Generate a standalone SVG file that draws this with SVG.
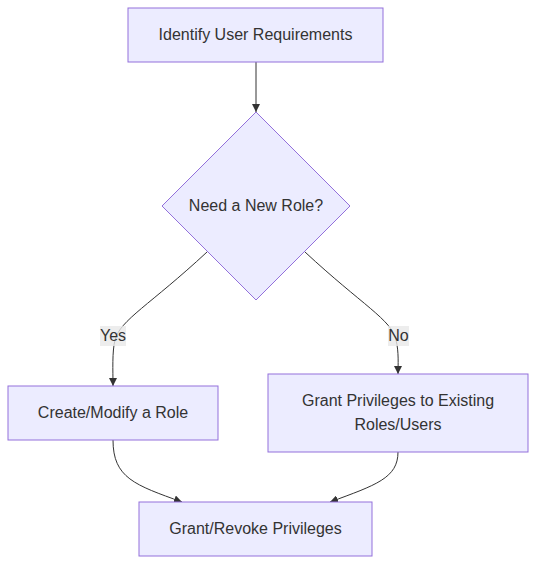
<svg xmlns="http://www.w3.org/2000/svg" width="536" height="564" viewBox="0 0 536 564">
<style>
.node{fill:#ECECFF;stroke:#9370DB;stroke-width:1}
.t{font-family:"Liberation Sans",Arial,sans-serif;font-size:16px;fill:#333333;text-anchor:middle;dominant-baseline:central}
.edge{fill:none;stroke:#333333;stroke-width:1}
.lbl{fill:#E8E8E8;opacity:0.8}
</style>
<defs>
<marker id="arrow" viewBox="0 0 10 10" refX="10" refY="5" markerWidth="8" markerHeight="8" markerUnits="userSpaceOnUse" orient="auto">
<path d="M0,0 L10,5 L0,10 z" fill="#333333"/>
</marker>
</defs>
<rect width="536" height="564" fill="#ffffff"/>
<g id="connectors">
<path class="edge" d="M256,62 L256,112" marker-end="url(#arrow)"/>
<path class="edge" d="M207,252 C150,305 120,320 115,340 C112,352 113,370 113,386" marker-end="url(#arrow)"/>
<path class="edge" d="M305,252 C362,305 392,320 396,340 C399,352 398,365 398,374" marker-end="url(#arrow)"/>
<path class="edge" d="M113,440 C113,478 135,485 182,502" marker-end="url(#arrow)"/>
<path class="edge" d="M398,452 C398,478 376,485 330,502" marker-end="url(#arrow)"/>
<g id="label-yes">
<rect class="lbl" x="100" y="326" width="26" height="20"/>
<text class="t" x="113" y="335.5">Yes</text>
</g>
<g id="label-no">
<rect class="lbl" x="388" y="326" width="21" height="20"/>
<text class="t" x="398.5" y="335.5">No</text>
</g>
</g>
<g id="A">
<rect class="node" x="128" y="8" width="255" height="54"/>
<text class="t" x="255.5" y="34">Identify User Requirements</text>
</g>
<g id="B">
<polygon class="node" points="256,112 350,206 256,300 162,206"/>
<text class="t" x="256" y="205">Need a New Role?</text>
</g>
<g id="C">
<rect class="node" x="8" y="386" width="210" height="54"/>
<text class="t" x="113" y="412">Create/Modify a Role</text>
</g>
<g id="D">
<rect class="node" x="268" y="374" width="260" height="78"/>
<text class="t" x="398" y="400">Grant Privileges to Existing</text>
<text class="t" x="398" y="424">Roles/Users</text>
</g>
<g id="E">
<rect class="node" x="139" y="502" width="233" height="54"/>
<text class="t" x="255.5" y="528">Grant/Revoke Privileges</text>
</g>
</svg>
